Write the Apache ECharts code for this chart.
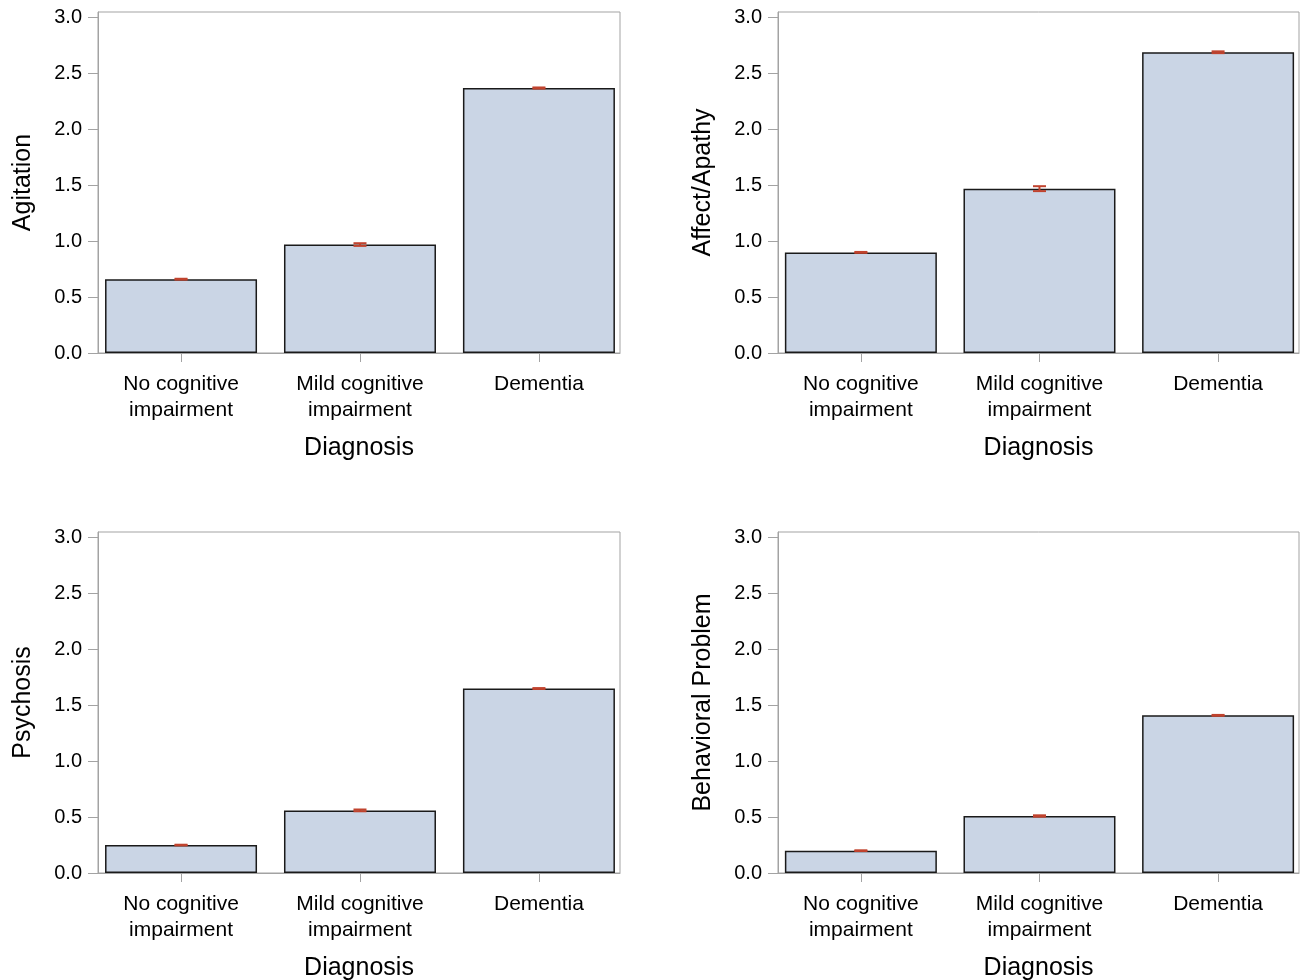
<!DOCTYPE html>
<html>
<head>
<meta charset="utf-8">
<script src="https://cdn.jsdelivr.net/npm/echarts@6/dist/echarts.min.js"></script>
<style>
html,body{margin:0;padding:0;background:#fff;}
#chart{width:1301px;height:980px;}
</style>
</head>
<body>
<div id="chart"></div>
<script>
// ---- data ----
const categories = ['No cognitive\nimpairment', 'Mild cognitive\nimpairment', 'Dementia'];
const panelNames = ['Agitation', 'Affect/Apathy', 'Psychosis', 'Behavioral Problem'];
const xAxisName = 'Diagnosis';
const agitation = [0.66, 0.97, 2.37];
const agitationErr = [0.004, 0.012, 0.005];
const affectApathy = [0.90, 1.47, 2.69];
const affectApathyErr = [0.004, 0.022, 0.008];
const psychosis = [0.25, 0.56, 1.65];
const psychosisErr = [0.003, 0.008, 0.004];
const behavioral = [0.20, 0.51, 1.41];
const behavioralErr = [0.003, 0.006, 0.004];
const yTicks = [0, 0.5, 1.0, 1.5, 2.0, 2.5, 3.0];

const panelValues = [agitation, affectApathy, psychosis, behavioral];
const panelErrs = [agitationErr, affectApathyErr, psychosisErr, behavioralErr];

// ---- layout ----
const FONT = '"Liberation Sans", Arial, Helvetica, sans-serif';
const AXIS_GRAY = '#a3a3a3';
const gridPos = [
  {left: 98, top: 12, width: 522, height: 341},
  {left: 778, top: 12, width: 521, height: 341},
  {left: 98, top: 532, width: 522, height: 341},
  {left: 778, top: 532, width: 521, height: 341}
];

const grids = [], xAxes = [], yAxes = [], series = [];
gridPos.forEach((g, i) => {
  grids.push(Object.assign({show: true, borderColor: AXIS_GRAY, borderWidth: 1, backgroundColor: 'transparent', containLabel: false, outerBoundsMode: 'none'}, g));
  xAxes.push({
    gridIndex: i, type: 'value', min: -0.464, max: 2.453, position: 'bottom',
    name: xAxisName, nameLocation: 'middle', nameGap: 83,
    nameTextStyle: {fontFamily: FONT, fontSize: 25, color: '#000'},
    axisLine: {show: true, onZero: false, lineStyle: {color: AXIS_GRAY, width: 1}},
    axisTick: {show: true, length: 9, lineStyle: {color: AXIS_GRAY}, customValues: [0, 1, 2]},
    axisLabel: {
      show: true, margin: 18, fontFamily: FONT, fontSize: 21, color: '#000', lineHeight: 26,
      customValues: [0, 1, 2],
      formatter: v => categories[Math.round(v)]
    },
    splitLine: {show: false}
  });
  yAxes.push({
    gridIndex: i, type: 'value', min: 0, max: 3.05, position: 'left',
    name: panelNames[i], nameLocation: 'middle', nameGap: 62, nameRotate: 90,
    nameTextStyle: {fontFamily: FONT, fontSize: 25, color: '#000'},
    axisLine: {show: true, onZero: false, lineStyle: {color: AXIS_GRAY, width: 1}},
    axisTick: {show: true, length: 10, lineStyle: {color: AXIS_GRAY}, customValues: yTicks},
    axisLabel: {
      show: true, margin: 16, fontFamily: FONT, fontSize: 20, color: '#000',
      customValues: yTicks,
      formatter: v => v.toFixed(1)
    },
    splitLine: {show: false}
  });
  const vals = panelValues[i];
  series.push({
    type: 'bar', xAxisIndex: i, yAxisIndex: i, barWidth: 152,
    data: vals.map((v, k) => [k, v]),
    itemStyle: {color: '#cad5e5', borderColor: '#1a1a1a', borderWidth: 1.5},
    emphasis: {disabled: true}, silent: true, z: 2
  });
  const errs = panelErrs[i];
  series.push({
    type: 'custom', xAxisIndex: i, yAxisIndex: i,
    data: vals.map((v, k) => [k, v - errs[k], v + errs[k]]),
    renderItem: (params, api) => {
      const x = api.value(0);
      const lo = api.coord([x, api.value(1)]);
      const hi = api.coord([x, api.value(2)]);
      const hw = 6.5;
      const style = {stroke: '#c0432e', lineWidth: 2, fill: null};
      return {
        type: 'group',
        children: [
          {type: 'line', shape: {x1: lo[0], y1: lo[1], x2: hi[0], y2: hi[1]}, style: style},
          {type: 'line', shape: {x1: lo[0] - hw, y1: lo[1], x2: lo[0] + hw, y2: lo[1]}, style: style},
          {type: 'line', shape: {x1: hi[0] - hw, y1: hi[1], x2: hi[0] + hw, y2: hi[1]}, style: style}
        ]
      };
    },
    silent: true, z: 5
  });
});

const chart = echarts.init(document.getElementById('chart'), null, {renderer: 'canvas'});
chart.setOption({
  animation: false,
  backgroundColor: '#fff',
  grid: grids,
  xAxis: xAxes,
  yAxis: yAxes,
  series: series
});
</script>
</body>
</html>
